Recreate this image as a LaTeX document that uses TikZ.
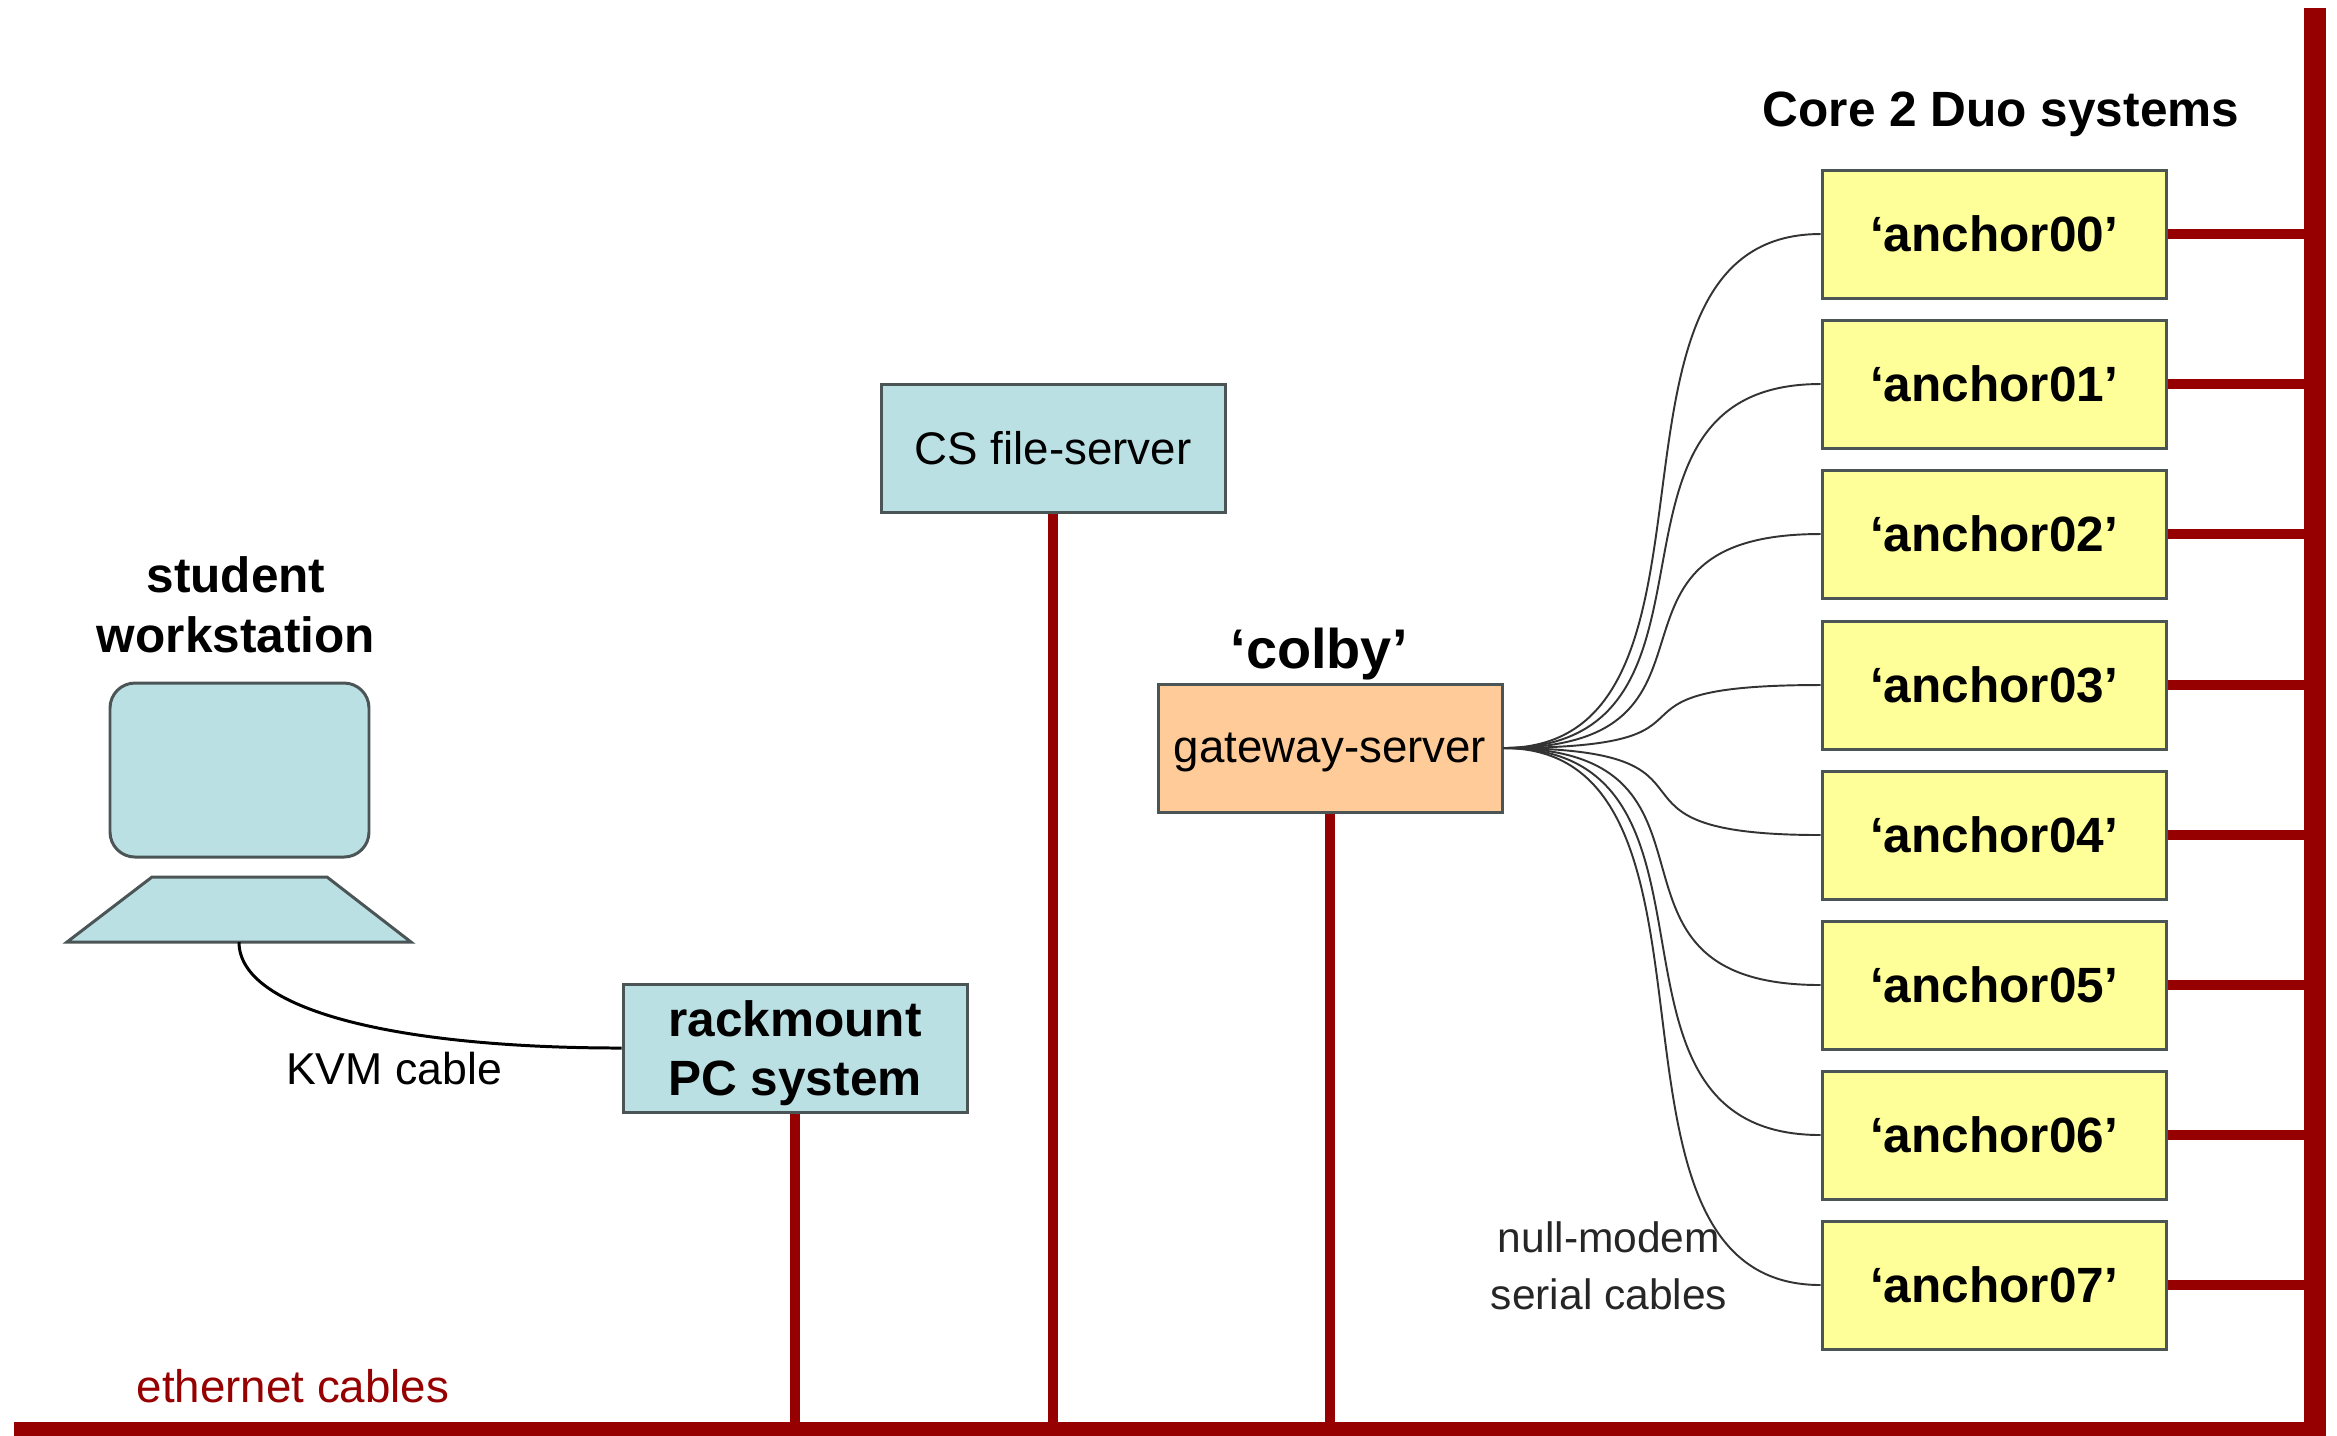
\documentclass[tikz,border=0pt]{standalone}
\usepackage{fontspec}
\setmainfont{Liberation Sans}
\usepackage{tikz}

\definecolor{boxblue}{RGB}{187,224,227}
\definecolor{boxyellow}{RGB}{255,255,153}
\definecolor{boxorange}{RGB}{255,204,153}
\definecolor{netred}{RGB}{150,0,0}
\definecolor{edgegray}{RGB}{75,85,85}

\begin{document}
\begin{tikzpicture}[x=0.1mm, y=-0.1mm,
    host/.style={draw=edgegray, line width=0.85pt, minimum width=34.4mm, minimum height=12.8mm, inner sep=0pt, text depth=0pt},
    boldtext/.style={font=\fontsize{14.1pt}{17pt}\selectfont\bfseries, align=center},
    plaintext/.style={font=\fontsize{13pt}{16pt}\selectfont, align=center},
    ether/.style={netred, line width=1mm},
    bus/.style={netred, line width=2.2mm, line join=miter},
    serial/.style={black!80, line width=0.55pt}]
    \useasboundingbox (0,0) rectangle (2337,1435);

    % Ethernet bus
    \coordinate (busL) at (14,1433);
    \coordinate (busC) at (2315,1433);
    \coordinate (busT) at (2315,8);
    \draw [bus] (busL) -- (busC) -- (busT);

    % Workstation
    \node [draw=edgegray, fill=boxblue, line width=0.85pt, rounded corners=2.5mm, minimum width=25.9mm, minimum height=17.4mm] (screen) at (239.5,770) {};
    \draw [draw=edgegray, fill=boxblue, line width=0.85pt] (152,877) -- (327,877) -- (411,942) -- (67,942) -- cycle;
    \coordinate (stand) at (239,942);

    % Servers
    \node [host, fill=boxblue, plaintext] (cs) at (1053,448) {CS file-server};
    \node [host, fill=boxorange, plaintext] (gw) at (1330,748) {gateway-server};
    \node [host, fill=boxblue, boldtext] (rack) at (795,1048) {rackmount\\PC system};

    % Core 2 Duo boxes
    \node [host, fill=boxyellow, boldtext] (a0) at (1994,234) {‘anchor00’};
    \node [host, fill=boxyellow, boldtext] (a1) at (1994,384) {‘anchor01’};
    \node [host, fill=boxyellow, boldtext] (a2) at (1994,534) {‘anchor02’};
    \node [host, fill=boxyellow, boldtext] (a3) at (1994,685) {‘anchor03’};
    \node [host, fill=boxyellow, boldtext] (a4) at (1994,835) {‘anchor04’};
    \node [host, fill=boxyellow, boldtext] (a5) at (1994,985) {‘anchor05’};
    \node [host, fill=boxyellow, boldtext] (a6) at (1994,1135) {‘anchor06’};
    \node [host, fill=boxyellow, boldtext] (a7) at (1994,1285) {‘anchor07’};

    % Ethernet drops
    \draw [ether] (cs.south) -- (cs.south |- busC);
    \draw [ether] (gw.south) -- (gw.south |- busC);
    \draw [ether] (rack.south) -- (rack.south |- busC);
    \draw [ether] (a0.east) -- (a0.east -| busC);
    \draw [ether] (a1.east) -- (a1.east -| busC);
    \draw [ether] (a2.east) -- (a2.east -| busC);
    \draw [ether] (a3.east) -- (a3.east -| busC);
    \draw [ether] (a4.east) -- (a4.east -| busC);
    \draw [ether] (a5.east) -- (a5.east -| busC);
    \draw [ether] (a6.east) -- (a6.east -| busC);
    \draw [ether] (a7.east) -- (a7.east -| busC);

    % KVM and serial cables
    \draw [line width=0.85pt] (stand) .. controls +(0,68) and +(-225,0) .. (rack.west);
    \draw [serial] (gw.east) .. controls +(250,0) and +(-250,0) .. (a0.west);
    \draw [serial] (gw.east) .. controls +(250,0) and +(-250,0) .. (a1.west);
    \draw [serial] (gw.east) .. controls +(250,0) and +(-250,0) .. (a2.west);
    \draw [serial] (gw.east) .. controls +(250,0) and +(-250,0) .. (a3.west);
    \draw [serial] (gw.east) .. controls +(250,0) and +(-250,0) .. (a4.west);
    \draw [serial] (gw.east) .. controls +(250,0) and +(-250,0) .. (a5.west);
    \draw [serial] (gw.east) .. controls +(250,0) and +(-250,0) .. (a6.west);
    \draw [serial] (gw.east) .. controls +(250,0) and +(-250,0) .. (a7.west);

    % Labels
    \node [boldtext, anchor=base] (duo) at (2001,126) {Core 2 Duo systems};
    \node [boldtext] (student) at (236,605) {student\\workstation};
    \node [font=\fontsize{15.9pt}{19pt}\selectfont\bfseries, anchor=base] (colby) at (1319,668) {‘colby’};
    \node [font=\fontsize{12.7pt}{15pt}\selectfont, anchor=base] (kvm) at (394,1084) {KVM cable};
    \node [font=\fontsize{12.1pt}{16.2pt}\selectfont, align=center, black!85] (nullmodem) at (1609,1266) {null-modem\\serial cables};
    \node [plaintext, netred, anchor=base] (ethernet) at (293,1402) {ethernet cables};

\end{tikzpicture}
\end{document}
